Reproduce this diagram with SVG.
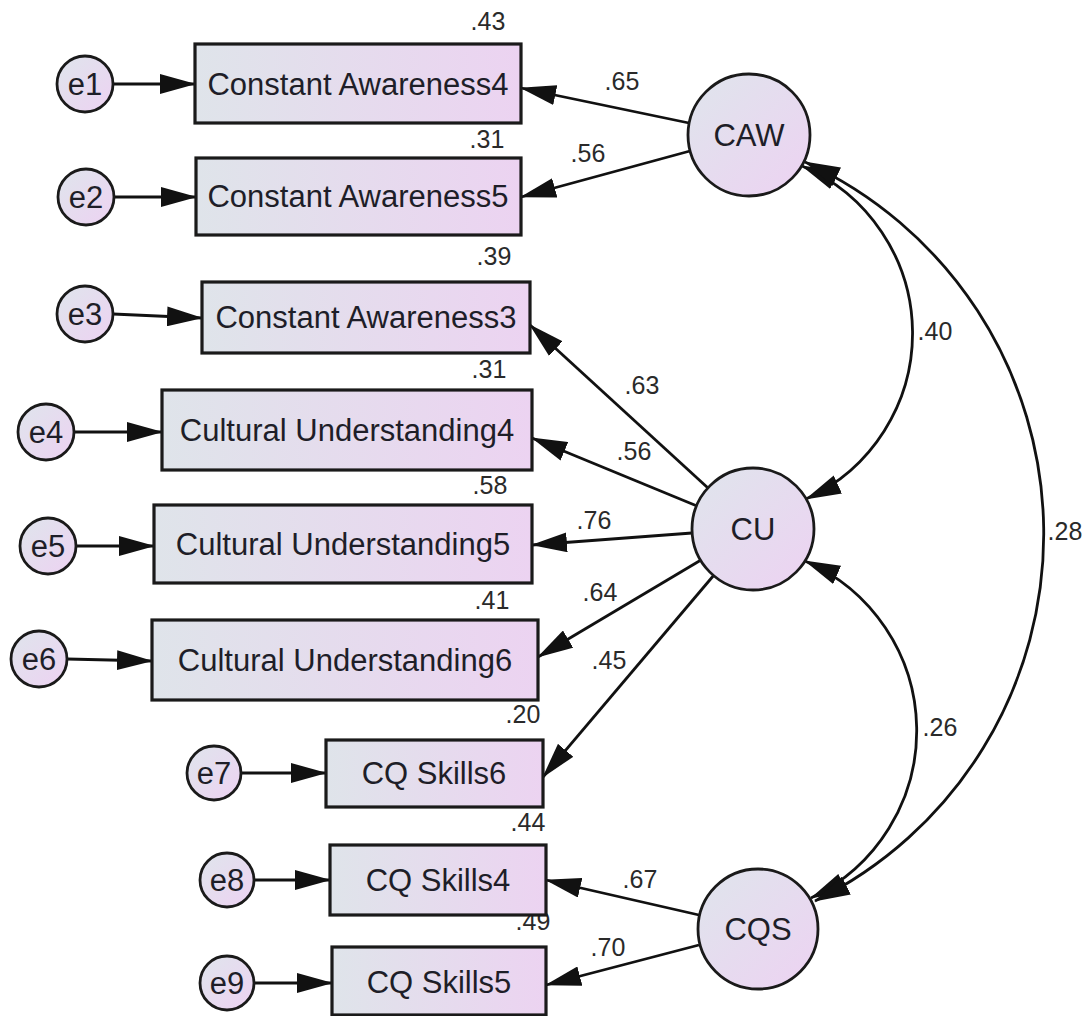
<svg xmlns="http://www.w3.org/2000/svg" width="1084" height="1016" viewBox="0 0 1084 1016">
  <defs>
    <linearGradient id="boxFill" x1="0" y1="0" x2="1" y2="0">
      <stop offset="0" stop-color="#dfe4ea"/>
      <stop offset="1" stop-color="#ecd3f1"/>
    </linearGradient>
    <linearGradient id="ovalFill" x1="0" y1="0" x2="1" y2="1">
      <stop offset="0" stop-color="#dfe5ec"/>
      <stop offset="1" stop-color="#edd2f2"/>
    </linearGradient>
    <marker id="ah" viewBox="0 0 36 20" refX="35" refY="10" markerWidth="36" markerHeight="20" markerUnits="userSpaceOnUse" orient="auto-start-reverse">
      <path d="M0,0 L36,10 L0,20 Z" fill="#111"/>
    </marker>
    <style>
      .box { fill: url(#boxFill); stroke: #1a1a1a; stroke-width: 3.2; }
      .oval { fill: url(#ovalFill); stroke: #1a1a1a; stroke-width: 2.8; }
      .lbl { font-family: "Liberation Sans", Arial, sans-serif; font-size: 31px; fill: #1e1e28; text-anchor: middle; }
      .num { font-family: "Liberation Sans", Arial, sans-serif; font-size: 25px; fill: #2a2a2a; text-anchor: middle; }
      .edge { fill: none; stroke: #111; stroke-width: 2.8; marker-end: url(#ah); }
      .cov { fill: none; stroke: #111; stroke-width: 2.8; marker-start: url(#ah); marker-end: url(#ah); }
    </style>
  </defs>
  <rect width="1084" height="1016" fill="#ffffff"/>

  <!-- paths, covariances and error terms -->
  <g id="connectors">
    <!-- error terms to indicators -->
    <line class="edge" x1="113" y1="84" x2="195" y2="84"/>
    <line class="edge" x1="114" y1="197" x2="196" y2="197"/>
    <line class="edge" x1="113" y1="314" x2="202" y2="318"/>
    <line class="edge" x1="74" y1="432" x2="162" y2="432"/>
    <line class="edge" x1="76" y1="546" x2="154" y2="546"/>
    <line class="edge" x1="67" y1="659" x2="152" y2="661"/>
    <line class="edge" x1="241" y1="773" x2="326" y2="773"/>
    <line class="edge" x1="254" y1="880" x2="330" y2="880"/>
    <line class="edge" x1="254" y1="983" x2="332" y2="983"/>
    <!-- loadings -->
    <line class="edge" x1="689" y1="123" x2="521" y2="88"/>
    <line class="edge" x1="690" y1="151" x2="521" y2="197"/>
    <line class="edge" x1="708" y1="488" x2="530" y2="325"/>
    <line class="edge" x1="697" y1="506" x2="532" y2="438"/>
    <line class="edge" x1="692" y1="533" x2="532" y2="545"/>
    <line class="edge" x1="701" y1="560" x2="538" y2="657"/>
    <line class="edge" x1="714" y1="575" x2="543" y2="777"/>
    <line class="edge" x1="699" y1="915" x2="546" y2="880"/>
    <line class="edge" x1="699" y1="945" x2="546" y2="985"/>
    <!-- factor covariances -->
    <path class="cov" d="M802 166 A182 182 0 0 1 806 499"/>
    <path class="cov" d="M805 561 A185 185 0 0 1 811 898"/>
    <path class="cov" d="M805 162 A409 409 0 0 1 815 901"/>
  </g>

  <!-- coefficient labels -->
  <g id="estimates">
    <text class="num" x="488" y="30">.43</text>
    <text class="num" x="487" y="148">.31</text>
    <text class="num" x="494" y="265">.39</text>
    <text class="num" x="489" y="378">.31</text>
    <text class="num" x="490" y="494">.58</text>
    <text class="num" x="492" y="609">.41</text>
    <text class="num" x="523" y="723">.20</text>
    <text class="num" x="528" y="831">.44</text>
    <text class="num" x="533" y="930">.49</text>
    <text class="num" x="622" y="90">.65</text>
    <text class="num" x="588" y="162">.56</text>
    <text class="num" x="642" y="394">.63</text>
    <text class="num" x="634" y="460">.56</text>
    <text class="num" x="594" y="529">.76</text>
    <text class="num" x="600" y="601">.64</text>
    <text class="num" x="609" y="669">.45</text>
    <text class="num" x="640" y="888">.67</text>
    <text class="num" x="608" y="956">.70</text>
    <text class="num" x="935" y="340">.40</text>
    <text class="num" x="1065" y="540">.28</text>
    <text class="num" x="940" y="736">.26</text>
  </g>

  <!-- observed indicators -->
  <g id="ca4"><rect class="box" x="195" y="44" width="326" height="79"/><text class="lbl" x="358" y="95">Constant Awareness4</text></g>
  <g id="ca5"><rect class="box" x="196" y="158" width="325" height="77"/><text class="lbl" x="358" y="207">Constant Awareness5</text></g>
  <g id="ca3"><rect class="box" x="202" y="282" width="328" height="71"/><text class="lbl" x="366" y="328">Constant Awareness3</text></g>
  <g id="cu4"><rect class="box" x="162" y="390" width="370" height="80"/><text class="lbl" x="347" y="441">Cultural Understanding4</text></g>
  <g id="cu5"><rect class="box" x="154" y="505" width="378" height="78"/><text class="lbl" x="343" y="555">Cultural Understanding5</text></g>
  <g id="cu6"><rect class="box" x="152" y="620" width="386" height="80"/><text class="lbl" x="345" y="671">Cultural Understanding6</text></g>
  <g id="cqs6"><rect class="box" x="326" y="740" width="217" height="67"/><text class="lbl" x="434" y="784">CQ Skills6</text></g>
  <g id="cqs4"><rect class="box" x="330" y="845" width="216" height="70"/><text class="lbl" x="438" y="891">CQ Skills4</text></g>
  <g id="cqs5"><rect class="box" x="332" y="947" width="214" height="68"/><text class="lbl" x="439" y="993">CQ Skills5</text></g>

  <!-- error terms -->
  <g id="e1"><circle class="oval" cx="85" cy="84" r="28"/><text class="lbl" x="85" y="95">e1</text></g>
  <g id="e2"><circle class="oval" cx="86" cy="197" r="28"/><text class="lbl" x="86" y="208">e2</text></g>
  <g id="e3"><circle class="oval" cx="85" cy="314" r="28"/><text class="lbl" x="85" y="325">e3</text></g>
  <g id="e4"><circle class="oval" cx="46" cy="432" r="28"/><text class="lbl" x="46" y="443">e4</text></g>
  <g id="e5"><circle class="oval" cx="48" cy="546" r="28"/><text class="lbl" x="48" y="557">e5</text></g>
  <g id="e6"><circle class="oval" cx="39" cy="659" r="28"/><text class="lbl" x="39" y="670">e6</text></g>
  <g id="e7"><circle class="oval" cx="214" cy="773" r="27"/><text class="lbl" x="214" y="784">e7</text></g>
  <g id="e8"><circle class="oval" cx="227" cy="880" r="27"/><text class="lbl" x="227" y="891">e8</text></g>
  <g id="e9"><circle class="oval" cx="227" cy="983" r="27"/><text class="lbl" x="227" y="994">e9</text></g>

  <!-- latent factors -->
  <g id="CAW"><circle class="oval" cx="749" cy="135" r="61"/><text class="lbl" x="749" y="146">CAW</text></g>
  <g id="CU"><circle class="oval" cx="753" cy="529" r="61"/><text class="lbl" x="753" y="540">CU</text></g>
  <g id="CQS"><circle class="oval" cx="758" cy="929" r="60"/><text class="lbl" x="758" y="940">CQS</text></g>
</svg>
